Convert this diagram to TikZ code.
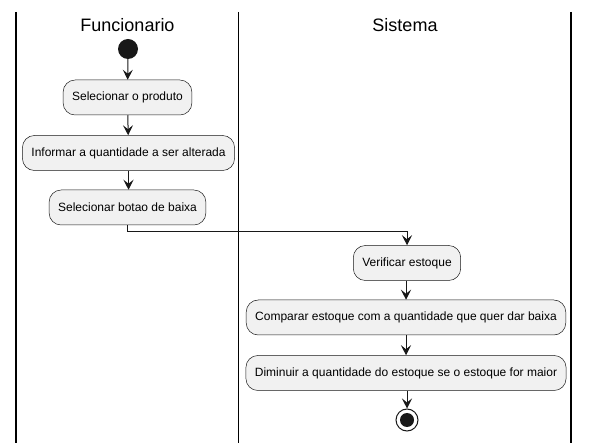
\documentclass[tikz,border=0pt]{standalone}
\usepackage{fontspec}
\setmainfont{Liberation Sans}
\usetikzlibrary{arrows.meta}
\definecolor{boxfill}{HTML}{F1F1F1}
\definecolor{boxline}{HTML}{181818}
\tikzset{
  act/.style={draw=boxline, fill=boxfill, rounded corners=12pt, minimum height=35pt, inner xsep=9pt, font=\fontsize{12}{14}\selectfont, line width=0.5pt},
  flow/.style={draw=boxline, line width=1pt, -{Stealth[length=10pt,width=10pt,inset=4pt]}},
  lane/.style={draw=black, line width=1.5pt},
  lanetitle/.style={font=\fontsize{18}{20}\selectfont}
}
\begin{document}
\begin{tikzpicture}[x=1pt,y=-1pt]
\useasboundingbox (0,0) rectangle (589,443);
\coordinate (l0t) at (16,12); \coordinate (l0b) at (16,443);
\coordinate (l1t) at (238.5,12); \coordinate (l1b) at (238.5,443);
\coordinate (l2t) at (571,12); \coordinate (l2b) at (571,443);
\draw[lane] (l0t) -- (l0b);
\draw[lane] (l1t) -- (l1b);
\draw[lane] (l2t) -- (l2b);
\node[lanetitle] (t1) at (127.5,25) {Funcionario};
\node[lanetitle] (t2) at (405,25) {Sistema};
\node[circle, fill=boxline, minimum size=20pt, inner sep=0pt] (start) at (128,49) {};
\node[act] (a1) at (127.5,97.5) {Selecionar o produto};
\node[act] (a2) at (128.5,153) {Informar a quantidade a ser alterada};
\node[act] (a3) at (127.5,207.5) {Selecionar botao de baixa};
\node[act] (a4) at (407,263) {Verificar estoque};
\node[act] (a5) at (406,317.5) {Comparar estoque com a quantidade que quer dar baixa};
\node[act] (a6) at (406,373) {Diminuir a quantidade do estoque se o estoque for maior};
\node[circle, draw=boxline, line width=1pt, fill=white, minimum size=22pt, inner sep=0pt] (end) at (407,420) {};
\node[circle, fill=boxline, minimum size=14pt, inner sep=0pt] (endin) at (end) {};
\draw[flow] (start) -- (a1);
\draw[flow] (a1) -- (a2);
\draw[flow] (a2) -- (a3.north -| a2.south);
\draw[flow] (a3.south) |- (407,232) -- (a4.north);
\draw[flow] (a4.south -| a5.north) -- (a5);
\draw[flow] (a5) -- (a6);
\draw[flow] (a6.south -| end.north) -- (end);
\end{tikzpicture}
\end{document}
